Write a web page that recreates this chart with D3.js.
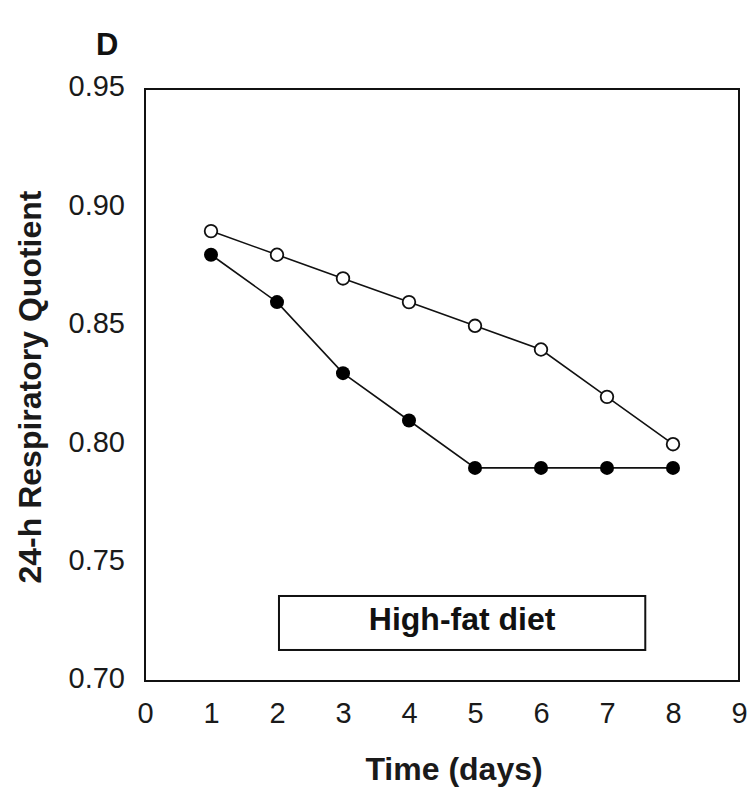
<!DOCTYPE html>
<html><head><meta charset="utf-8">
<script src="https://cdn.jsdelivr.net/npm/d3@7"></script>
<style>body{margin:0;background:#fff}svg{display:block}text{font-family:"Liberation Sans",Arial,sans-serif}</style>
</head><body>
<script>
const days = [1,2,3,4,5,6,7,8];
const openSeries = [0.89,0.88,0.87,0.86,0.85,0.84,0.82,0.80];
const filledSeries = [0.88,0.86,0.83,0.81,0.79,0.79,0.79,0.79];
const xTicks = [0,1,2,3,4,5,6,7,8,9];
const yTicks = [0.70,0.75,0.80,0.85,0.90,0.95];
const panelLabel = "D";
const boxLabel = "High-fat diet";
const xTitle = "Time (days)";
const yTitle = "24-h Respiratory Quotient";

const W=753,H=792;
const L=145,R=739,T=89,B=681;
const svg=d3.select("body").append("svg").attr("width",W).attr("height",H);
const x=d3.scaleLinear().domain([0,9]).range([L,R]);
const y=d3.scaleLinear().domain([0.70,0.95]).range([B,T]);

svg.append("rect").attr("x",L).attr("y",T).attr("width",R-L).attr("height",B-T)
  .attr("fill","none").attr("stroke","#111").attr("stroke-width",2);

const xa=svg.append("g").attr("transform",`translate(0,${B})`)
  .call(d3.axisBottom(x).tickValues(xTicks).tickFormat(d3.format("d")).tickSize(0).tickPadding(21));
xa.select(".domain").remove();
xa.selectAll("text").attr("font-size",29).attr("fill","#1a1a1a").style("font-family","Liberation Sans, Arial, sans-serif");

const ya=svg.append("g").attr("transform",`translate(${L},0)`)
  .call(d3.axisLeft(y).tickValues(yTicks).tickFormat(d3.format(".2f")).tickSize(0).tickPadding(20));
ya.select(".domain").remove();
ya.selectAll("text").attr("font-size",29).attr("dy","0.24em").attr("fill","#1a1a1a").style("font-family","Liberation Sans, Arial, sans-serif");

// label box
const bx0=x(2.03), bx1=x(7.58), by0=y(0.7359), by1=y(0.7131);
svg.append("rect").attr("x",bx0).attr("y",by0).attr("width",bx1-bx0).attr("height",by1-by0)
  .attr("fill","#fff").attr("stroke","#111").attr("stroke-width",2);
svg.append("text").attr("x",(bx0+bx1)/2).attr("y",630).attr("text-anchor","middle")
  .attr("font-size",32).attr("font-weight","bold").attr("fill","#111").text(boxLabel);

const line=d3.line().x((d,i)=>x(days[i])).y(d=>y(d));
svg.append("path").datum(openSeries).attr("d",line).attr("fill","none").attr("stroke","#111").attr("stroke-width",1.6);
svg.append("path").datum(filledSeries).attr("d",line).attr("fill","none").attr("stroke","#111").attr("stroke-width",1.6);

svg.selectAll(".o").data(openSeries).join("circle").attr("cx",(d,i)=>x(days[i])).attr("cy",d=>y(d))
  .attr("r",6.3).attr("fill","#fff").attr("stroke","#111").attr("stroke-width",1.8);
svg.selectAll(".f").data(filledSeries).join("circle").attr("cx",(d,i)=>x(days[i])).attr("cy",d=>y(d))
  .attr("r",7).attr("fill","#000");

svg.append("text").attr("x",96).attr("y",55).attr("font-size",31).attr("font-weight","bold").attr("fill","#111").text(panelLabel);
svg.append("text").attr("x",454).attr("y",780).attr("text-anchor","middle").attr("font-size",32).attr("font-weight","bold").attr("fill","#1a1a1a").text(xTitle);
svg.append("text").attr("transform",`translate(41,387) rotate(-90)`).attr("text-anchor","middle")
  .attr("font-size",32).attr("font-weight","bold").attr("fill","#1a1a1a").text(yTitle);
</script>
</body></html>
